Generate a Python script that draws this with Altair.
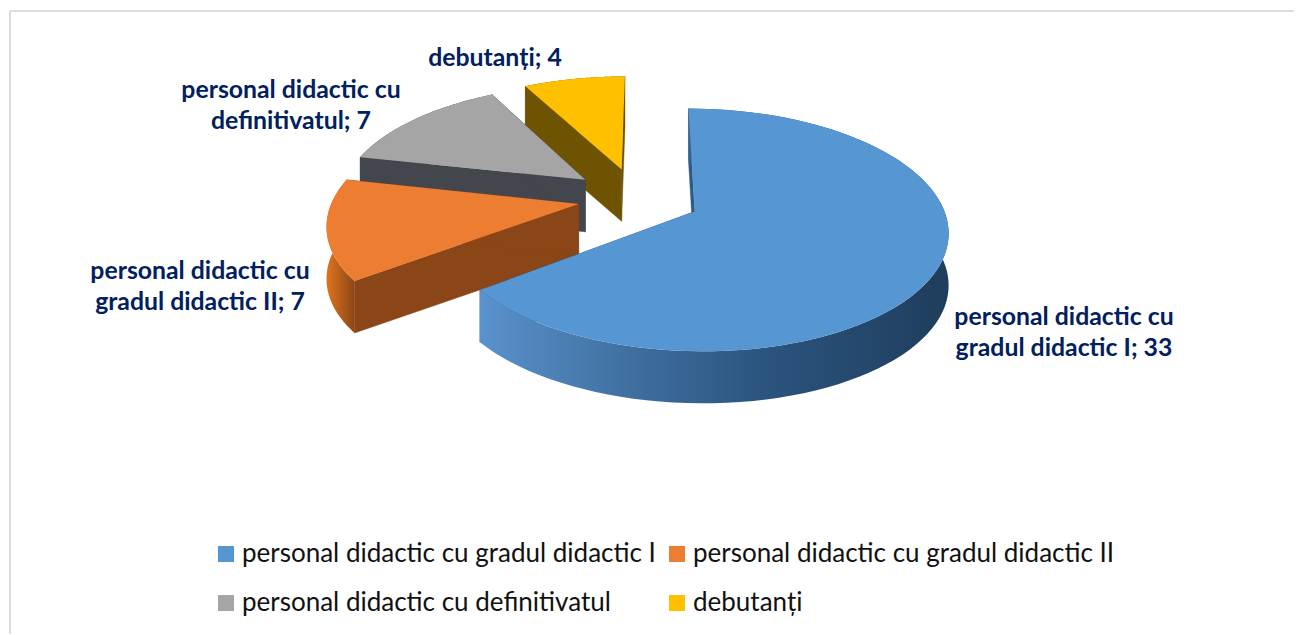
import numpy as np
import altair as alt

labels = ["personal didactic cu gradul didactic I", "personal didactic cu gradul didactic II",
          "personal didactic cu definitivatul", "debutanți"]
values = [33, 7, 7, 4]
top_colors = ["#5596d3", "#ed7d31", "#a5a5a5", "#ffc000"]
cut_colors = ["#2b5a88", "#8a4616", "#43474d", "#6e5300"]
wall_stops = [[("#5a92cc", 0), ("#3d6c9c", 0.35), ("#2b557f", 0.6), ("#1f3d5c", 1)],
              [("#e0741f", 0), ("#8a4616", 1)],
              [("#43474d", 0), ("#43474d", 1)],
              [("#6e5300", 0), ("#6e5300", 1)]]
explode = [0.26, 0.24, 0.27, 0.27]
label_lines = [["personal didactic cu", "gradul didactic I; 33"],
               ["personal didactic cu", "gradul didactic II; 7"],
               ["personal didactic cu", "definitivatul; 7"],
               ["debutanți; 4"]]
label_xy = [(1056, 310), (192, 264), (283, 83), (487, 51)]

# layout of the tilted pie (page pixels minus the 8px margin)
OX, OY, W, K, R = 648 - 8, 212 - 8, 781.0, 0.152, 250.0
CX, CY, H = -0.046, -0.12, 52.0


def project(X, Y):
    w = W / (1 - K * Y)
    return OX + X * R * w / W, OY - W + w


def rim(x0, y0, a0, a1):
    t = np.linspace(a0, a1, 90)
    return project(x0 + np.sin(t), y0 - np.cos(t))


def feature(label, xs, ys):
    ring = [[float(a), float(b)] for a, b in zip(xs, ys)]
    ring.append(ring[0])
    return {"type": "Feature", "properties": {"label": label},
            "geometry": {"type": "Polygon", "coordinates": [ring]}}


PROJ = dict(type="identity", scale=1, translate=[0, 0])
colors = alt.Color("properties.label:N", sort=labels,
                   scale=alt.Scale(domain=labels, range=top_colors),
                   legend=alt.Legend(title=None, orient="none", legendX=205, legendY=533, columns=2,
                                     direction="horizontal",
                                     symbolType="square", symbolSize=256, symbolStrokeWidth=0,
                                     labelFont="Lato", labelFontSize=26, labelColor="#111111",
                                     labelLimit=600, rowPadding=23, columnPadding=8,
                                     symbolOffset=0, labelOffset=3))

layers = []
fractions = np.cumsum([0] + values) / sum(values) * 2 * np.pi
for i in [3, 2, 1, 0]:
    label = labels[i]
    a0, a1 = fractions[i], fractions[i + 1]
    mid = (a0 + a1) / 2
    x0 = CX + explode[i] * np.sin(mid)
    y0 = CY - explode[i] * np.cos(mid)
    ax, ay = project(x0, y0)
    rx, ry = rim(x0, y0, a0, a1)
    cuts = [feature(label, [ax, rx[0], rx[0], ax], [ay, ry[0], ry[0] + H, ay + H]),
            feature(label, [ax, rx[-1], rx[-1], ax], [ay, ry[-1], ry[-1] + H, ay + H])]
    cut_layer = alt.Chart(alt.Data(values=cuts)).mark_geoshape(
        fill=cut_colors[i], stroke=cut_colors[i], strokeWidth=0.5).project(**PROJ)
    wall = feature(label, np.r_[rx, rx[::-1]], np.r_[ry, ry[::-1] + H])
    wall_layer = alt.Chart(alt.Data(values=[wall])).mark_geoshape(
        fill=alt.LinearGradient(gradient="linear", x1=0, y1=0, x2=1, y2=0,
                                stops=[alt.GradientStop(color=c, offset=o) for c, o in wall_stops[i]]),
        strokeWidth=0).project(**PROJ)
    # the big slice shows its outer wall in front of its cuts; the others the reverse
    layers += [cut_layer, wall_layer] if i == 0 else [wall_layer, cut_layer]
    top = feature(label, np.r_[ax, rx], np.r_[ay, ry])
    layers.append(alt.Chart(alt.Data(values=[top])).mark_geoshape(strokeWidth=0).encode(color=colors).project(**PROJ))

# data labels
for text, (x, y) in zip(label_lines, label_xy):
    for j, line in enumerate(text):
        layers.append(alt.Chart(alt.Data(values=[{"t": line}])).mark_text(
            font="Lato", fontWeight="bold", fontSize=24.8, color="#002060", align="center", baseline="middle"
        ).encode(text="t:N", x=alt.value(x), y=alt.value(y + j * 31)))

# chart frame
layers.append(alt.Chart(alt.Data(values=[{"a": 0}])).mark_rule(color="#dcdcdc", strokeWidth=2).encode(
    x=alt.value(2), x2=alt.value(1286), y=alt.value(3)))
layers.append(alt.Chart(alt.Data(values=[{"a": 0}])).mark_rule(color="#dcdcdc", strokeWidth=2).encode(
    x=alt.value(2), y=alt.value(3), y2=alt.value(626)))

chart = alt.layer(*layers).properties(width=1287, height=615, padding=0, background="white").configure_view(stroke=None)
chart.save("out.html", embed_options={"renderer": "svg", "actions": False})
